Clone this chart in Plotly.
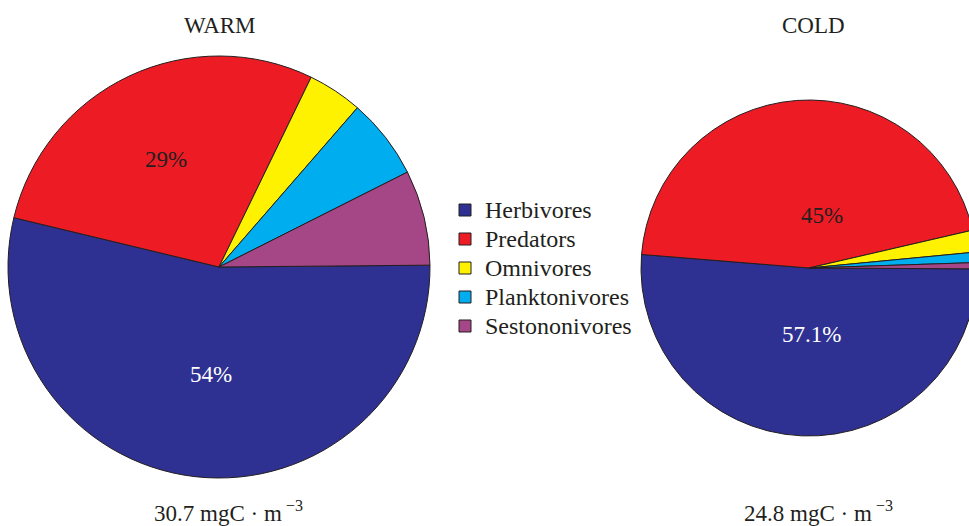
import plotly.graph_objects as go

# data
groups = ['Herbivores', 'Predators', 'Omnivores', 'Planktonivores', 'Sestononivores']
warm_share = [54.0, 28.5, 4.2, 6.2, 7.3]
cold_share = [51.2, 45.1, 2.1, 1.0, 0.6]
warm_labels = ['54%', '29%']
cold_labels = ['57.1%', '45%']
warm_total = '30.7 mgC · m<sup> −3</sup>'
cold_total = '24.8 mgC · m<sup> −3</sup>'

colors = ['#2E3192', '#ED1C24', '#FFF200', '#00AEEF', '#A54686']
# figure is a bit wider than the window so the COLD pie runs off the right edge
W, H = 977, 526
serif = 'Liberation Serif, Times New Roman, serif'


def px(sx):
    return sx / W


def py(sy):
    return 1 - sy / H


def box(cx, cy, r):
    # domain box (paper fractions) for a pie of radius r centred at pixel cx, cy
    return dict(x=[max(0, px(cx - r)), min(1, px(cx + r))],
                y=[max(0, py(cy + r)), min(1, py(cy - r))])


# legend rows stay tight (legend font 20) while the words are drawn larger
legend_names = [f'<span style="font-size:24px">{g}</span>' for g in groups]

fig = go.Figure()

fig.add_trace(go.Pie(
    labels=legend_names, values=warm_share, sort=False, direction='clockwise',
    rotation=89.5, textinfo='none', hoverinfo='label+percent',
    marker=dict(colors=colors, line=dict(color='#231F20', width=1)),
    domain=box(219, 267, 211), showlegend=True,
))

fig.add_trace(go.Pie(
    labels=legend_names, values=cold_share, sort=False, direction='clockwise',
    rotation=90.3, textinfo='none', hoverinfo='label+percent',
    marker=dict(colors=colors, line=dict(color='#231F20', width=1)),
    domain=box(809, 268, 168), showlegend=False,
))

notes = [
    ('WARM', 220, 25, '#231F20'),
    ('COLD', 813, 25, '#231F20'),
    (warm_total, 228, 511, '#231F20'),
    (cold_total, 818, 511, '#231F20'),
    (warm_labels[0], 211, 374, 'white'),
    (warm_labels[1], 166, 159, '#231F20'),
    (cold_labels[0], 811, 334, 'white'),
    (cold_labels[1], 822, 216, '#231F20'),
]
for txt, x, y, col in notes:
    fig.add_annotation(text=txt, x=px(x), y=py(y), xref='paper', yref='paper',
                       showarrow=False, xanchor='center', yanchor='middle',
                       font=dict(family=serif, size=23, color=col))

fig.update_layout(
    width=W, height=H,
    margin=dict(l=0, r=0, t=0, b=0),
    paper_bgcolor='white', plot_bgcolor='white',
    font=dict(family=serif, color='#231F20'),
    legend=dict(x=px(445), y=py(268), xanchor='left', yanchor='middle',
                font=dict(family=serif, size=20, color='#231F20'),
                bgcolor='rgba(0,0,0,0)', traceorder='normal'),
)

fig.write_html("out.html", config={'displayModeBar': False},
               post_script="document.body.style.margin='0';"
                           "document.body.style.overflow='hidden';")
